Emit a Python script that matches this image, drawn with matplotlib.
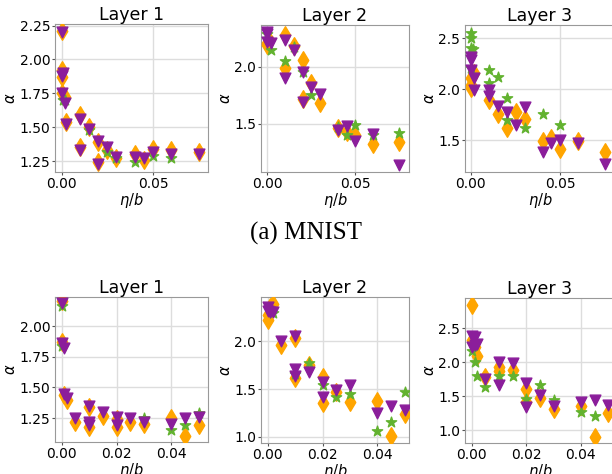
import matplotlib
matplotlib.use("Agg")
import matplotlib.pyplot as plt

ORANGE = "#FFA500"
GREEN = "#62B22F"
PURPLE = "#8B1E9B"

# ---- MNIST ----
mnist_l1_orange_x = [0, 0, 0, 0, 0.002, 0.0025, 0.01, 0.01, 0.015, 0.02, 0.02, 0.025, 0.03, 0.04, 0.045, 0.05, 0.06, 0.075]
mnist_l1_orange_y = [2.21, 1.92, 1.87, 1.75, 1.72, 1.54, 1.59, 1.35, 1.50, 1.39, 1.24, 1.33, 1.27, 1.30, 1.26, 1.34, 1.33, 1.32]
mnist_l1_purple_x = [0, 0.001, 0, 0, 0.002, 0.0025, 0.01, 0.01, 0.015, 0.02, 0.02, 0.025, 0.03, 0.04, 0.045, 0.05, 0.06, 0.075]
mnist_l1_purple_y = [2.20, 1.90, 1.88, 1.75, 1.68, 1.52, 1.56, 1.33, 1.49, 1.40, 1.23, 1.35, 1.28, 1.28, 1.27, 1.32, 1.30, 1.30]
mnist_l1_green_x = [0.001, 0.002, 0.015, 0.025, 0.03, 0.04, 0.05, 0.06]
mnist_l1_green_y = [1.70, 1.70, 1.48, 1.32, 1.27, 1.24, 1.29, 1.27]

mnist_l2_orange_x = [0, 0, 0.001, 0.01, 0.01, 0.015, 0.02, 0.02, 0.025, 0.03, 0.04, 0.045, 0.05, 0.06, 0.075]
mnist_l2_orange_y = [2.21, 2.19, 2.24, 2.28, 1.99, 2.18, 2.06, 1.72, 1.86, 1.68, 1.46, 1.43, 1.40, 1.32, 1.34]
mnist_l2_purple_x = [0, 0, 0, 0.002, 0.01, 0.01, 0.015, 0.02, 0.02, 0.025, 0.03, 0.04, 0.045, 0.05, 0.06, 0.075]
mnist_l2_purple_y = [2.31, 2.29, 2.22, 2.21, 2.24, 1.90, 2.15, 1.95, 1.69, 1.82, 1.76, 1.44, 1.48, 1.35, 1.41, 1.14]
mnist_l2_green_x = [0, 0.002, 0.01, 0.015, 0.02, 0.025, 0.04, 0.045, 0.05, 0.06, 0.075]
mnist_l2_green_y = [2.29, 2.15, 2.05, 2.17, 1.95, 1.75, 1.47, 1.40, 1.49, 1.40, 1.42]

mnist_l3_orange_x = [0, 0, 0, 0.002, 0.01, 0.015, 0.02, 0.025, 0.03, 0.04, 0.045, 0.05, 0.06, 0.075]
mnist_l3_orange_y = [2.11, 2.04, 2.01, 2.16, 1.90, 1.76, 1.62, 1.78, 1.71, 1.49, 1.52, 1.42, 1.49, 1.39]
mnist_l3_purple_x = [0, 0, 0, 0.002, 0.002, 0.01, 0.01, 0.015, 0.02, 0.025, 0.03, 0.04, 0.045, 0.05, 0.06, 0.075]
mnist_l3_purple_y = [2.32, 2.29, 2.19, 2.11, 1.99, 1.99, 1.93, 1.84, 1.78, 1.65, 1.83, 1.39, 1.47, 1.50, 1.47, 1.27]
mnist_l3_green_x = [0, 0, 0, 0, 0.001, 0, 0.01, 0.01, 0.015, 0.02, 0.02, 0.03, 0.04, 0.05]
mnist_l3_green_y = [2.55, 2.50, 2.40, 2.35, 2.39, 2.21, 2.19, 2.06, 2.12, 1.91, 1.70, 1.62, 1.76, 1.65]

# ---- CIFAR ----
cifar_l1_orange_x = [0, 0, 0.001, 0.002, 0.005, 0.01, 0.01, 0.015, 0.02, 0.02, 0.025, 0.03, 0.04, 0.045, 0.05]
cifar_l1_orange_y = [2.21, 1.87, 1.44, 1.40, 1.22, 1.34, 1.18, 1.27, 1.24, 1.18, 1.22, 1.20, 1.25, 1.10, 1.19]
cifar_l1_purple_x = [0, 0, 0.001, 0.001, 0.002, 0.005, 0.01, 0.01, 0.01, 0.015, 0.02, 0.02, 0.025, 0.03, 0.04, 0.045, 0.05]
cifar_l1_purple_y = [2.19, 1.86, 1.82, 1.45, 1.41, 1.25, 1.35, 1.22, 1.19, 1.30, 1.26, 1.19, 1.25, 1.22, 1.20, 1.25, 1.26]
cifar_l1_green_x = [0, 0, 0.03, 0.04, 0.045, 0.05]
cifar_l1_green_y = [2.17, 1.84, 1.25, 1.15, 1.19, 1.29]

cifar_l2_orange_x = [0, 0, 0.001, 0.002, 0.005, 0.01, 0.01, 0.015, 0.02, 0.02, 0.025, 0.03, 0.04, 0.045, 0.05]
cifar_l2_orange_y = [2.22, 2.27, 2.36, 2.39, 1.96, 2.03, 1.61, 1.75, 1.63, 1.35, 1.47, 1.36, 1.37, 1.01, 1.24]
cifar_l2_purple_x = [0, 0, 0.001, 0.002, 0.005, 0.01, 0.01, 0.01, 0.015, 0.02, 0.02, 0.025, 0.03, 0.04, 0.045, 0.05]
cifar_l2_purple_y = [2.36, 2.31, 2.30, 2.30, 2.00, 2.05, 1.71, 1.64, 1.68, 1.57, 1.42, 1.49, 1.54, 1.25, 1.32, 1.28]
cifar_l2_green_x = [0.002, 0.01, 0.015, 0.02, 0.025, 0.03, 0.04, 0.045, 0.05]
cifar_l2_green_y = [2.29, 1.66, 1.77, 1.54, 1.42, 1.45, 1.06, 1.16, 1.47]

cifar_l3_orange_x = [0, 0, 0.001, 0.002, 0.005, 0.01, 0.01, 0.015, 0.02, 0.02, 0.025, 0.03, 0.04, 0.045, 0.05]
cifar_l3_orange_y = [2.84, 2.33, 2.22, 2.10, 1.78, 1.93, 1.88, 1.89, 1.61, 1.42, 1.47, 1.31, 1.36, 0.90, 1.25]
cifar_l3_purple_x = [0, 0, 0.001, 0.001, 0.002, 0.005, 0.01, 0.01, 0.015, 0.02, 0.02, 0.025, 0.03, 0.04, 0.045, 0.05]
cifar_l3_purple_y = [2.39, 2.22, 2.38, 2.25, 2.27, 1.75, 2.00, 1.66, 1.99, 1.70, 1.34, 1.52, 1.36, 1.42, 1.44, 1.37]
cifar_l3_green_x = [0, 0.001, 0.002, 0.005, 0.01, 0.015, 0.02, 0.025, 0.03, 0.04, 0.045]
cifar_l3_green_y = [2.17, 2.00, 1.80, 1.63, 1.80, 1.80, 1.46, 1.66, 1.45, 1.27, 1.21]

titles = ["Layer 1", "Layer 2", "Layer 3"]

panels = [
    # (left px, right px, top px, bottom px, xlim, ylim, xticks, yticks, series)
    (55, 208, 24, 172, (-0.0036, 0.080), (1.169, 2.262), [0, 0.05], [1.25, 1.5, 1.75, 2.0, 2.25],
     (mnist_l1_orange_x, mnist_l1_orange_y, mnist_l1_green_x, mnist_l1_green_y, mnist_l1_purple_x, mnist_l1_purple_y)),
    (261, 409, 25, 172, (-0.0036, 0.0805), (1.074, 2.368), [0, 0.05], [1.5, 2.0],
     (mnist_l2_orange_x, mnist_l2_orange_y, mnist_l2_green_x, mnist_l2_green_y, mnist_l2_purple_x, mnist_l2_purple_y)),
    (465, 615, 25, 172, (-0.0033, 0.0805), (1.19, 2.63), [0, 0.05], [1.5, 2.0, 2.5],
     (mnist_l3_orange_x, mnist_l3_orange_y, mnist_l3_green_x, mnist_l3_green_y, mnist_l3_purple_x, mnist_l3_purple_y)),
    (55, 208, 297, 442, (-0.0024, 0.0533), (1.054, 2.24), [0, 0.02, 0.04], [1.25, 1.5, 1.75, 2.0],
     (cifar_l1_orange_x, cifar_l1_orange_y, cifar_l1_green_x, cifar_l1_green_y, cifar_l1_purple_x, cifar_l1_purple_y)),
    (261, 409, 297, 443, (-0.0024, 0.0515), (0.937, 2.46), [0, 0.02, 0.04], [1.0, 1.5, 2.0],
     (cifar_l2_orange_x, cifar_l2_orange_y, cifar_l2_green_x, cifar_l2_green_y, cifar_l2_purple_x, cifar_l2_purple_y)),
    (465, 615, 298, 443, (-0.0025, 0.0525), (0.81, 2.95), [0, 0.02, 0.04], [1.0, 1.5, 2.0, 2.5],
     (cifar_l3_orange_x, cifar_l3_orange_y, cifar_l3_green_x, cifar_l3_green_y, cifar_l3_purple_x, cifar_l3_purple_y)),
]

W, H = 612, 474
fig = plt.figure(figsize=(W / 100, H / 100), dpi=100)

for i, (l, r, t, b, xlim, ylim, xt, yt, s) in enumerate(panels):
    ax = fig.add_axes([l / W, 1 - b / H, (r - l) / W, (b - t) / H])
    ox, oy, gx, gy, px, py = s
    ax.scatter(ox, oy, marker="d", s=80, color=ORANGE, zorder=3)
    ax.scatter(gx, gy, marker="*", s=60, color=GREEN, zorder=4)
    ax.scatter(px, py, marker="v", s=60, color=PURPLE, zorder=5)
    ax.set_xlim(*xlim)
    ax.set_ylim(*ylim)
    ax.set_xticks(xt)
    ax.set_yticks(yt)
    ax.grid(True, color="#dddddd", linewidth=1.0)
    ax.set_axisbelow(True)
    for sp in ax.spines.values():
        sp.set_color("#999999")
    ax.tick_params(labelsize=10, length=2, color="#555555", pad=1.5)
    ax.set_title(titles[i % 3], fontsize=12.5, pad=3)
    ax.set_xlabel(r"$\eta/b$", fontsize=10.5, labelpad=0)
    ax.set_ylabel(r"$\alpha$", fontsize=10.5, labelpad=1)

fig.text(306 / W, 1 - 233 / H, "(a) MNIST", ha="center", va="center",
         fontsize=18, family="Liberation Serif")

fig.savefig("out.png", dpi=100)
